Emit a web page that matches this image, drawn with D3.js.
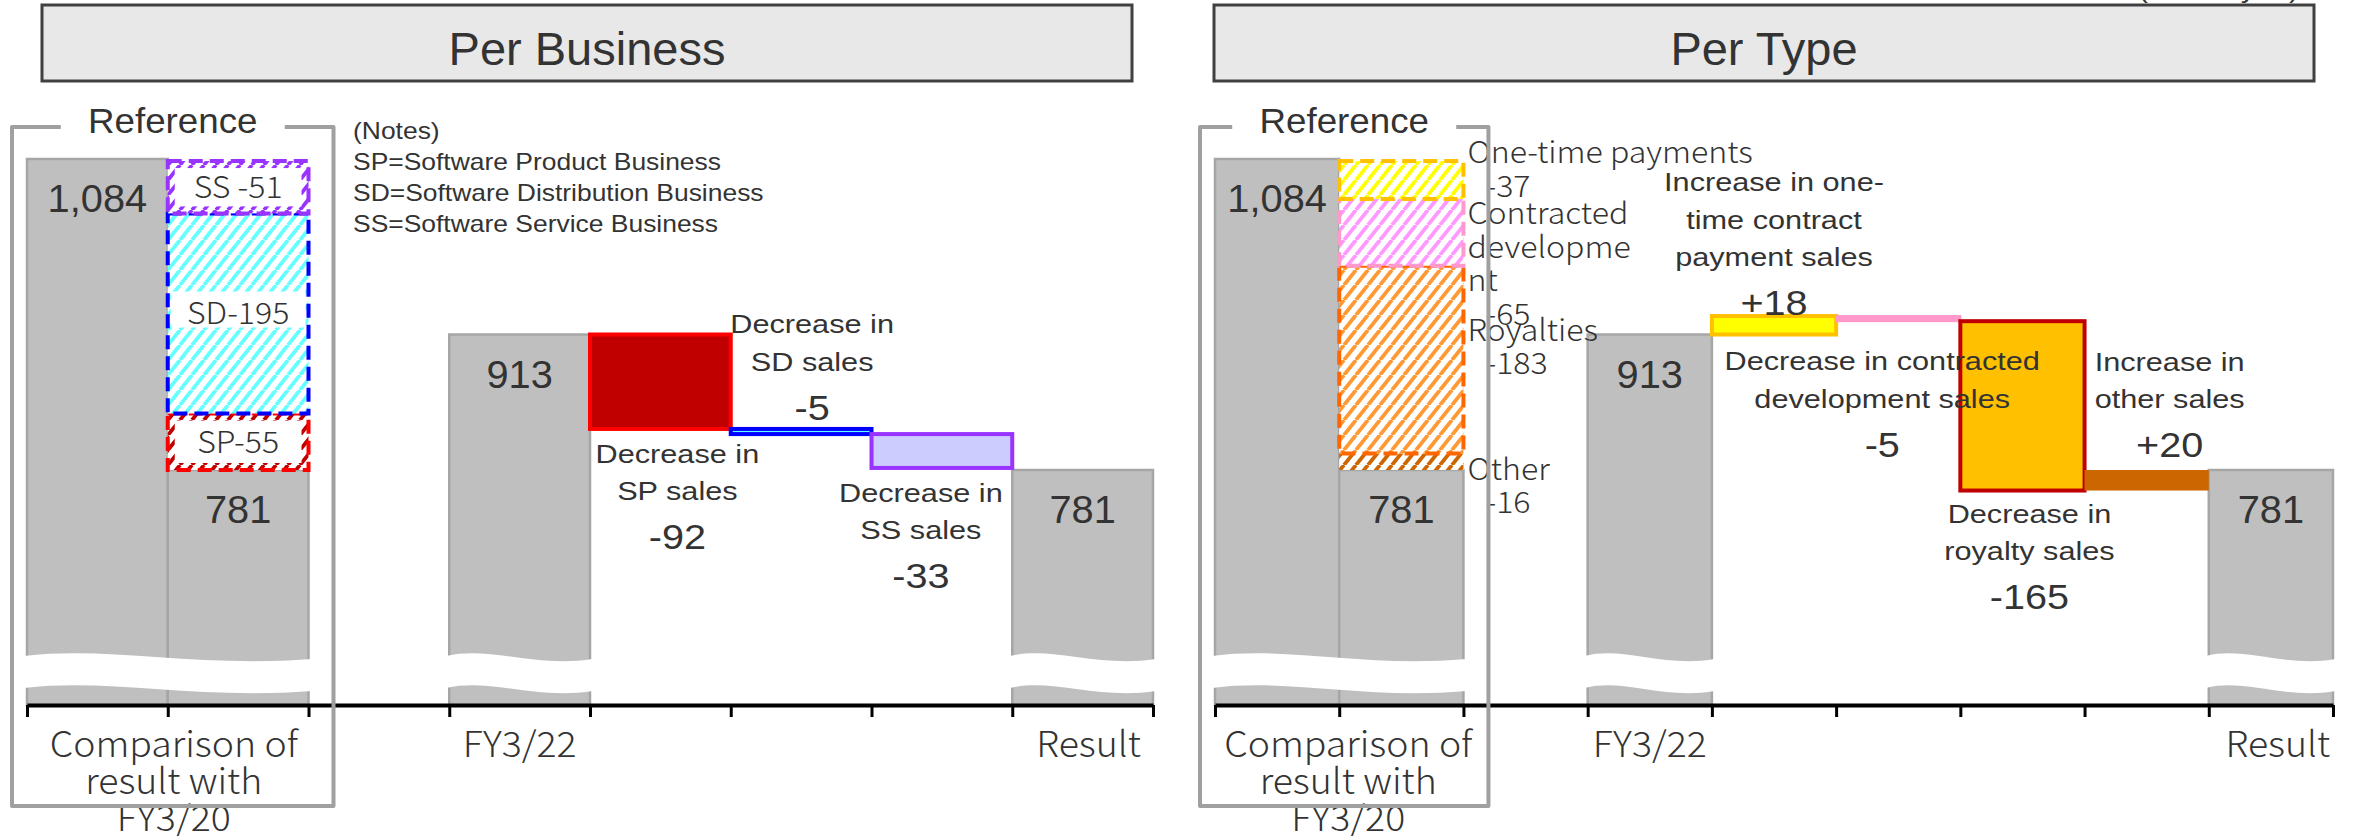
<!DOCTYPE html>
<html>
<head>
<meta charset="utf-8">
<script src="https://cdn.jsdelivr.net/npm/d3@7"></script>
<style>
  html, body { margin: 0; padding: 0; background: #fff; }
  svg { display: block; }
</style>
</head>
<body>
<script>
// ---------- data (million yen) ----------
const fy20Sales = 1084;
const fy22Sales = 913;
const resultSales = 781;

// Per Business
const businessSlots = ["fy20", "fy20Breakdown", "spacer", "fy22", "SP", "SD", "SS", "result"];
const businessRefKeys = ["SP", "SD", "SS"];
const businessRefNames = ["SP", "SD", "SS "];
const businessRefDiffs = [-55, -195, -51];
const businessChangeKeys = ["SP", "SD", "SS"];
const businessChanges = [-92, -5, -33];
const businessChangeText = [["Decrease in", "SP sales"], ["Decrease in", "SD sales"], ["Decrease in", "SS sales"]];
const businessNotes = ["(Notes)", "SP=Software Product Business", "SD=Software Distribution Business", "SS=Software Service Business"];

// Per Type
const typeSlots = ["fy20", "fy20Breakdown", "spacer", "fy22", "oneTime", "contracted", "royalty", "other", "result"];
const typeRefKeys = ["other", "royalty", "contracted", "oneTime"];
const typeRefNames = [["Other"], ["Royalties"], ["Contracted", "developme", "nt"], ["One-time payments"]];
const typeRefDiffs = [-16, -183, -65, -37];
const typeChangeKeys = ["oneTime", "contracted", "royalty", "other"];
const typeChanges = [18, -5, -165, 20];
const typeChangeText = [["Increase in one-", "time contract", "payment sales"], ["Decrease in contracted", "development sales"], ["Decrease in", "royalty sales"], ["Increase in", "other sales"]];

// Totals and category labels shared by both panels
const totalSlots = ["fy20", "fy20Breakdown", "fy22", "result"];
const totalValues = [fy20Sales, resultSales, fy22Sales, resultSales];
const categoryGroups = [["fy20", "fy20Breakdown"], ["fy22"], ["result"]];
const categoryText = [["Comparison of", "result with", "FY3/20"], ["FY3/22"], ["Result"]];
const panelTitles = ["Per Business", "Per Type"];
const referenceTitle = "Reference";
const unitText = "(Million yen)";

// ---------- styles ----------
const ARIAL = "'Liberation Sans', Arial, sans-serif";
const GOTHIC = "'Noto Sans CJK JP', 'Noto Sans', sans-serif";
const INK = "#333333";
const GRAY_FILL = "#bfbfbf", GRAY_EDGE = "#a6a6a6";

const partStyle = {
  SP:         { hatch: "#c00000", border: "#ff0000", bar: "#c00000", edge: "#ff0000", edgeW: 4 },
  SD:         { hatch: "#66ffff", border: "#0000ff", bar: "#66ffff", edge: "#0000ff", edgeW: 4 },
  SS:         { hatch: "#9933ff", border: "#9933ff", bar: "#ccccff", edge: "#9933ff", edgeW: 4 },
  oneTime:    { hatch: "#ffff00", border: "#ffc000", bar: "#ffff00", edge: "#ffc000", edgeW: 4 },
  contracted: { hatch: "#ff99ff", border: "#ff99cc", bar: "#ff99cc", edge: "#ff99cc", edgeW: 2 },
  royalty:    { hatch: "#ff9933", border: "#ff6600", bar: "#ffc000", edge: "#c00000", edgeW: 4 },
  other:      { hatch: "#cc6600", border: "none",    bar: "#cc6600", edge: "none",    edgeW: 0 }
};

const TEXT = { size: 26, family: ARIAL, sx: 1.18 };
const NUM = { size: 36, family: ARIAL, sx: 1.1 };
const TOTAL = { size: 39, family: ARIAL, sx: 1.02 };
const SIDE = { size: 30, family: GOTHIC, sx: 1.07, anchor: "start", weight: 300 };

const panels = [
  {
    title: panelTitles[0], slots: businessSlots, range: [27, 1153], header: [42, 1132],
    refKeys: businessRefKeys, refDiffs: businessRefDiffs, refMode: "inside",
    refBg: ["box", "strip", "box"],
    changeKeys: businessChangeKeys, changes: businessChanges, changeText: businessChangeText,
    changeLayout: [{ side: "below", dx: 17, gap: 34 }, { side: "above", dx: 11, gap: 9 }, { side: "below", dx: -21, gap: 34 }],
    catDx: [6, 0, 6]
  },
  {
    title: panelTitles[1], slots: typeSlots, range: [1215, 2333], header: [1214, 2314],
    refKeys: typeRefKeys, refDiffs: typeRefDiffs, refMode: "side", refNames: typeRefNames,
    refDy: [26, 75, 25, 2],
    changeKeys: typeChangeKeys, changes: typeChanges, changeText: typeChangeText,
    changeLayout: [{ side: "above", dx: 0, gap: 1 }, { side: "below", dx: -16, gap: 49 }, { side: "below", dx: 7, gap: 32 }, { side: "above", dx: 23, gap: 13 }],
    catDx: [9, 0, 7]
  }
];

// ---------- setup ----------
const W = 2361, H = 836;
const axisY = 705;
const loc = d3.formatLocale({ decimal: ".", thousands: ",", grouping: [3], currency: ["", ""], minus: "-" });
const fmtTotal = loc.format(",");
const fmtChange = loc.format("+,");
const fmtDiff = loc.format(",");

const svg = d3.select("body").append("svg").attr("width", W).attr("height", H);
svg.append("rect").attr("width", W).attr("height", H).attr("fill", "#fff");
const defs = svg.append("defs");

// broken value axis: upper part of the bars is drawn to scale
const y = d3.scaleLinear().domain([resultSales, fy20Sales]).range([470, 159]);

Object.entries(partStyle).forEach(([key, s]) => {
  const p = defs.append("pattern").attr("id", "hatch-" + key)
    .attr("patternUnits", "userSpaceOnUse").attr("width", 12).attr("height", 15);
  p.append("rect").attr("width", 12).attr("height", 15).attr("fill", "#fff");
  p.append("path").attr("d", "M-12,15 L0,0 M0,15 L12,0 M12,15 L24,0")
    .attr("stroke", s.hatch).attr("stroke-width", 3.8);
});

function label(g, x, yy, str, o) {
  return g.append("text")
    .attr("transform", `translate(${x},${yy}) scale(${o.sx || 1},1)`)
    .attr("text-anchor", o.anchor || "middle")
    .attr("font-family", o.family || ARIAL)
    .attr("font-size", o.size)
    .attr("font-weight", o.weight || 400)
    .attr("fill", o.fill || INK)
    .text(str);
}

function wavePath(a, b) {
  const w = b - a, t = 656, h = 32;
  return `M${a},${t} C${a + 0.3 * w},${t - 10} ${a + 0.6 * w},${t + 12} ${b},${t + 3}` +
         ` L${b},${t + 3 + h} C${a + 0.6 * w},${t + 12 + h} ${a + 0.3 * w},${t - 10 + h} ${a},${t + h} Z`;
}

// unit note at the top right
label(svg, 2299, -2, unitText, { size: 26, family: ARIAL, sx: 1.15, anchor: "end" });

panels.forEach(p => {
  const g = svg.append("g");
  const x = d3.scaleBand().domain(p.slots).range(p.range).padding(0);
  const edge = d3.scaleLinear().domain([0, p.slots.length]).range(p.range);
  const bw = x.bandwidth();

  // title box
  g.append("rect").attr("x", p.header[0]).attr("y", 5)
    .attr("width", p.header[1] - p.header[0]).attr("height", 76)
    .attr("fill", "#e8e8e8").attr("stroke", "#404040").attr("stroke-width", 3);
  label(g, (p.header[0] + p.header[1]) / 2, 65, p.title, { size: 47, family: ARIAL });

  // gray total bars
  const totals = totalSlots.map((s, i) => ({ slot: s, value: totalValues[i] }));
  g.selectAll("rect.total").data(totals).join("rect").attr("class", "total")
    .attr("x", d => x(d.slot)).attr("width", bw)
    .attr("y", d => y(d.value)).attr("height", d => axisY - y(d.value))
    .attr("fill", GRAY_FILL).attr("stroke", GRAY_EDGE).attr("stroke-width", 2.5);

  // axis break waves
  g.selectAll("path.wave").data(categoryGroups).join("path").attr("class", "wave")
    .attr("d", grp => wavePath(x(grp[0]) - 3, x(grp[grp.length - 1]) + bw + 3))
    .attr("fill", "#fff");

  // breakdown of the FY3/20 gap, stacked on top of the result bar
  let level = resultSales;
  const parts = p.refKeys.map((k, i) => {
    const lo = level, hi = level - p.refDiffs[i];
    level = hi;
    return { key: k, diff: p.refDiffs[i], lo, hi, i };
  });
  const bx = x("fy20Breakdown");
  g.selectAll("rect.part").data(parts).join("rect").attr("class", "part")
    .attr("x", bx).attr("width", bw)
    .attr("y", d => y(d.hi)).attr("height", d => y(d.lo) - y(d.hi))
    .attr("fill", d => `url(#hatch-${d.key})`)
    .attr("stroke", d => partStyle[d.key].border)
    .attr("stroke-width", 4).attr("stroke-dasharray", "14 7");

  if (p.refMode === "inside") {
    parts.forEach((d, i) => {
      const top = y(d.hi), bot = y(d.lo), cy = (top + bot) / 2;
      if (p.refBg[i] === "box") {
        g.append("rect").attr("x", bx + 7).attr("y", top + 7)
          .attr("width", bw - 14).attr("height", bot - top - 14).attr("fill", "#fff");
      } else {
        g.append("rect").attr("x", bx + 3).attr("y", cy - 22)
          .attr("width", bw - 6).attr("height", 36).attr("fill", "#fff");
      }
      label(g, bx + bw / 2, cy + 11, businessRefNames[i] + fmtDiff(d.diff),
        { size: 30, family: GOTHIC, sx: 1.07, weight: 300 });
    });
  } else {
    parts.forEach((d, i) => {
      const lx = bx + bw + 4;
      const lines = p.refNames[i];
      const y0 = y(d.hi) + p.refDy[i];
      lines.forEach((s, j) => label(g, lx, y0 + j * 33.5, s, SIDE));
      label(g, lx + 18, y0 + lines.length * 33.5, fmtDiff(d.diff), SIDE);
    });
  }

  // waterfall of changes from FY3/22 to the result
  let run = fy22Sales;
  const steps = p.changeKeys.map((k, i) => {
    const start = run, end = run + p.changes[i];
    run = end;
    return { key: k, value: p.changes[i], hi: Math.max(start, end), lo: Math.min(start, end), i };
  });
  g.selectAll("rect.step").data(steps).join("rect").attr("class", "step")
    .attr("x", d => x(d.key)).attr("width", bw)
    .attr("y", d => y(d.hi)).attr("height", d => y(d.lo) - y(d.hi))
    .attr("fill", d => partStyle[d.key].bar)
    .attr("stroke", d => partStyle[d.key].edge)
    .attr("stroke-width", d => partStyle[d.key].edgeW);

  steps.forEach((d, i) => {
    const L = p.changeLayout[i];
    const cx = x(d.key) + bw / 2 + L.dx;
    const lines = p.changeText[i];
    if (L.side === "below") {
      const b0 = y(d.lo) + L.gap;
      lines.forEach((s, j) => label(g, cx, b0 + j * 37.5, s, TEXT));
      label(g, cx, b0 + (lines.length - 1) * 37.5 + 49, fmtChange(d.value), NUM);
    } else {
      const ny = y(d.hi) - L.gap;
      label(g, cx, ny, fmtChange(d.value), NUM);
      lines.forEach((s, j) => label(g, cx, ny - 49 - (lines.length - 1 - j) * 37.5, s, TEXT));
    }
  });

  // value labels on the totals
  totals.forEach(d => label(g, x(d.slot) + bw / 2, y(d.value) + 53, fmtTotal(d.value), TOTAL));

  // category axis with ticks on the slot edges
  const ax = g.append("g").attr("transform", `translate(0,${axisY})`)
    .call(d3.axisBottom(edge).tickValues(d3.range(p.slots.length + 1)).tickSize(12).tickSizeOuter(0).tickFormat(""));
  ax.select(".domain").attr("stroke", "#000").attr("stroke-width", 4);
  ax.selectAll(".tick line").attr("stroke", "#000").attr("stroke-width", 3);

  categoryGroups.forEach((grp, i) => {
    const cx = (x(grp[0]) + x(grp[grp.length - 1]) + bw) / 2 + p.catDx[i];
    categoryText[i].forEach((s, j) => label(g, cx, 757 + j * 37, s,
      { size: 35, family: GOTHIC, sx: 1.07, weight: 300 }));
  });

  // reference frame around the FY3/20 comparison
  const fl = x("fy20") - 15, fr = x("fy20Breakdown") + bw + 25, ft = 127, fb = 806;
  const fc = (fl + fr) / 2;
  g.append("path")
    .attr("d", `M${fc - 112},${ft} L${fl},${ft} L${fl},${fb} L${fr},${fb} L${fr},${ft} L${fc + 112},${ft}`)
    .attr("fill", "none").attr("stroke", "#a0a0a0").attr("stroke-width", 4).attr("stroke-linejoin", "round");
  label(g, fc, 133, referenceTitle, { size: 35, family: ARIAL, sx: 1.05 });

  if (p.refMode === "inside") {
    businessNotes.forEach((s, j) => label(g, 353, 139 + j * 31, s, { size: 23, family: ARIAL, sx: 1.15, anchor: "start" }));
  }
});
</script>
</body>
</html>
